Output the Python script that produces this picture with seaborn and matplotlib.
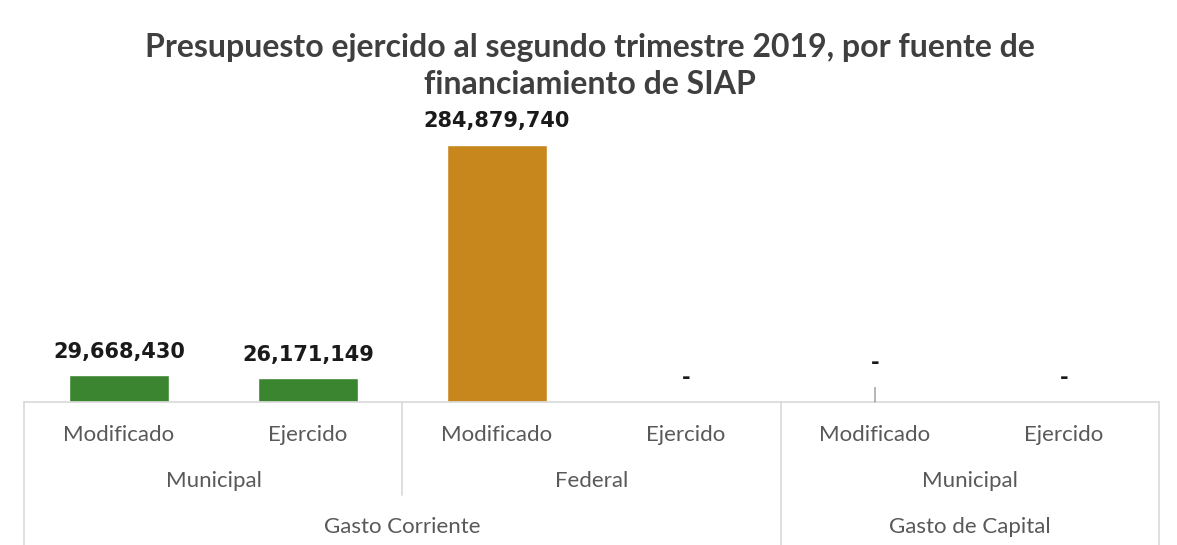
import matplotlib
matplotlib.use('Agg')
import matplotlib.pyplot as plt
import seaborn as sns
import pandas as pd
from matplotlib.lines import Line2D

# Data
tipo_gasto = ['Gasto Corriente', 'Gasto Corriente', 'Gasto Corriente', 'Gasto Corriente',
              'Gasto de Capital', 'Gasto de Capital']
fuente = ['Municipal', 'Municipal', 'Federal', 'Federal', 'Municipal', 'Municipal']
concepto = ['Modificado', 'Ejercido', 'Modificado', 'Ejercido', 'Modificado', 'Ejercido']
montos = [29668430, 26171149, 284879740, 0, 0, 0]
colores = ['#3b8531', '#3b8531', '#c8871d', '#c8871d', '#3b8531', '#3b8531']

data = pd.DataFrame({'tipo': tipo_gasto, 'fuente': fuente, 'concepto': concepto, 'monto': montos})
data['clave'] = [f'{t}|{f}|{c}' for t, f, c in zip(tipo_gasto, fuente, concepto)]

sns.set_style('white')
plt.rcParams['font.family'] = ['Lato', 'DejaVu Sans']

fig = plt.figure(figsize=(11.77, 5.45), dpi=100)
ax = fig.add_axes([0.0208, 0.2624, 0.9635, 0.4972])

sns.barplot(data=data, x='clave', y='monto', hue='clave', palette=colores,
            legend=False, width=0.53, ax=ax, saturation=1)

ax.set_xlim(-0.5, 5.5)
ax.set_ylim(0, 300000000)
ax.set_xticks([])
ax.set_yticks([])
ax.set_xlabel('')
ax.set_ylabel('')
for s in ax.spines.values():
    s.set_visible(False)

# Value labels
for i, v in enumerate(montos):
    if v > 0:
        ax.annotate(f'{v:,}', (i, v), xytext=(0, 17), textcoords='offset points',
                    ha='center', va='center', fontsize=15, fontweight='bold',
                    family='DejaVu Sans', color='#1a1a1a')
    elif i == 4:
        ax.annotate('-', (i, v), xytext=(0, 28), textcoords='offset points',
                    ha='center', va='center', fontsize=15, fontweight='bold',
                    family='DejaVu Sans', color='#1a1a1a',
                    arrowprops=dict(arrowstyle='-', color='#999999', lw=1,
                                    shrinkA=8, shrinkB=0))
    else:
        ax.annotate('-', (i, v), xytext=(0, 17), textcoords='offset points',
                    ha='center', va='center', fontsize=15, fontweight='bold',
                    family='DejaVu Sans', color='#1a1a1a')

# Multi-level category axis
tr = ax.get_xaxis_transform()
grid_color = '#d9d9d9'
lines = [
    ([-0.5, 5.5], [0, 0]),
    ([-0.5, -0.5], [0, -0.53]),
    ([1.5, 1.5], [0, -0.343]),
    ([3.5, 3.5], [0, -0.53]),
    ([5.5, 5.5], [0, -0.53]),
]
for xs, ys in lines:
    ax.add_line(Line2D(xs, ys, transform=tr, color=grid_color, lw=1.2, clip_on=False))

label_color = '#595959'
for i, c in enumerate(concepto):
    ax.text(i, -0.122, c, transform=tr, ha='center', va='center', fontsize=16, color=label_color)

for f, pos in zip(['Municipal', 'Federal', 'Municipal'], [0.5, 2.5, 4.5]):
    ax.text(pos, -0.292, f, transform=tr, ha='center', va='center', fontsize=16, color=label_color)

for t, pos in zip(['Gasto Corriente', 'Gasto de Capital'], [1.5, 4.5]):
    ax.text(pos, -0.461, t, transform=tr, ha='center', va='center', fontsize=16, color=label_color)

# Title (two lines)
fig.text(0.501, 1 - 47 / 545, 'Presupuesto ejercido al segundo trimestre 2019, por fuente de',
         ha='center', va='center', fontsize=23, fontweight='bold', color='#3f3f3f')
fig.text(0.501, 1 - 85 / 545, 'financiamiento de SIAP',
         ha='center', va='center', fontsize=23, fontweight='bold', color='#3f3f3f')

fig.savefig('out.png', dpi=100)
